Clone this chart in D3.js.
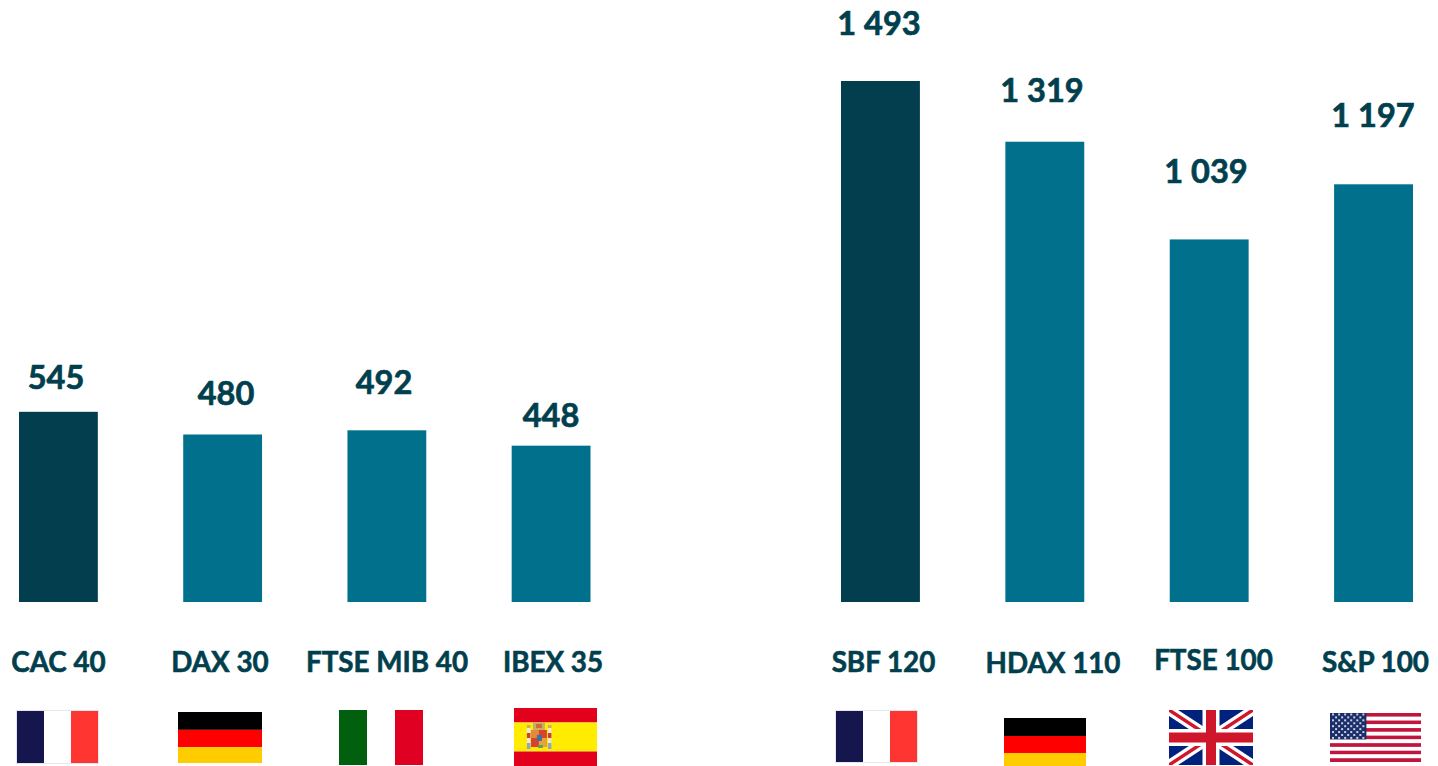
<!DOCTYPE html>
<html><head><meta charset="utf-8">
<script src="https://cdn.jsdelivr.net/npm/d3@7"></script>
<style>html,body{margin:0;padding:0;background:#fff;overflow:hidden}svg{display:block}text{font-family:Lato,sans-serif;font-weight:700}</style>
</head><body><svg id="c" width="1438" height="766"></svg>
<script>
// DATA
const leftCategories = ["CAC 40","DAX 30","FTSE MIB 40","IBEX 35"];
const leftValues = [545,480,492,448];
const rightCategories = ["SBF 120","HDAX 110","FTSE 100","S&P 100"];
const rightValues = [1493,1319,1039,1197];
const leftFlags = ["fr","de","it","es"];
const rightFlags = ["fr","de2","uk","us"];

// LAYOUT
const W=1438,H=766,baseY=602,topY=81;
const DARK="#023e4d",TEAL="#01708c",LABEL="#023f4e";
const leftValueLabel=[{x:56,y:389},{x:226,y:405},{x:384,y:394},{x:551,y:427}];
const rightValueLabel=[{x:879,y:35},{x:1042,y:102},{x:1206,y:183},{x:1373,y:126.5}];
const leftCatLabel=[{x:58.5,y:672},{x:220,y:672},{x:387,y:672},{x:553,y:672}];
const rightCatLabel=[{x:883.5,y:672},{x:1053,y:673},{x:1213.5,y:670},{x:1375.5,y:672}];
const leftFlagBox=[[17,711,98,763],[178,712,262,763],[339,710,423,765],[514,708,597,766]];
const rightFlagBox=[[836,711,917,762],[1004,718,1086,766],[1169,710,1253,765],[1330,713,1421,762]];

const svg=d3.select("#c");
const defs=svg.append("defs");
defs.append("filter").attr("id","soft").append("feGaussianBlur").attr("stdDeviation",0.45);
const y=d3.scaleLinear().domain([0,d3.max(rightValues)]).range([baseY,topY]);
const fmt=v=>d3.format(",")(v).replace(/,/g," ");

function panel(cats,vals,flags,range,valPos,catPos,boxes){
  const x=d3.scaleBand().domain(cats).range(range).paddingInner(0.52).paddingOuter(0);
  const g=svg.append("g");
  g.selectAll("rect").data(cats).join("rect")
    .attr("x",d=>x(d)).attr("width",x.bandwidth())
    .attr("y",(d,i)=>y(vals[i])).attr("height",(d,i)=>baseY-y(vals[i]))
    .attr("fill",(d,i)=>i===0?DARK:TEAL);
  svg.append("g").selectAll("text").data(vals).join("text")
    .attr("x",(d,i)=>valPos[i].x).attr("y",(d,i)=>valPos[i].y)
    .attr("text-anchor","middle").attr("font-size",32.5).attr("fill",LABEL)
    .attr("stroke",LABEL).attr("stroke-width",0.7).text(fmt);
  svg.append("g").selectAll("text").data(cats).join("text")
    .attr("x",(d,i)=>catPos[i].x).attr("y",(d,i)=>catPos[i].y)
    .attr("text-anchor","middle").attr("font-size",27.8).attr("fill",LABEL)
    .attr("stroke",LABEL).attr("stroke-width",0.6).text(d=>d);
  flags.forEach((f,i)=>drawFlag(f,boxes[i]));
}

function bands(g,b,cols,vertical,fracs){
  const [x0,y0,x1,y1]=b;let acc=0;
  cols.forEach((c,i)=>{const fr=fracs?fracs[i]:1/cols.length;
    const r=g.append("rect").attr("fill",c);
    if(vertical) r.attr("x",x0+(x1-x0)*acc).attr("width",(x1-x0)*fr).attr("y",y0).attr("height",y1-y0);
    else r.attr("x",x0).attr("width",x1-x0).attr("y",y0+(y1-y0)*acc).attr("height",(y1-y0)*fr);
    acc+=fr;});
}
function drawFlag(kind,b){
  const g=svg.append("g").attr("filter","url(#soft)");
  const [x0,y0,x1,y1]=b,w=x1-x0,h=y1-y0;
  const box=(px,py,pw,ph,c)=>g.append("rect").attr("x",px).attr("y",py).attr("width",pw).attr("height",ph).attr("fill",c);
  if(kind==="fr"){
    g.append("rect").attr("x",x0-0.5).attr("y",y0-0.5).attr("width",w+1).attr("height",h+1).attr("fill","none").attr("stroke","#e6e6ee");
    bands(g,b,["#14144f","#ffffff","#ff3630"],true);
  }
  if(kind==="de") bands(g,b,["#050003","#fe0000","#ffcc00"],false,[.35,.34,.31]);
  if(kind==="de2") bands(g,b,["#050003","#fe0000","#ffcc00"],false,[.375,.354,.271]);
  if(kind==="it") bands(g,b,["#00600f","#ffffff","#e00024"],true);
  if(kind==="es"){
    bands(g,b,["#e2001f","#ffec00","#e2001f"],false,[.25,.5,.25]);
    const cx=x0+w*0.3,cy=y0+h/2;
    box(cx-6,cy-15,12,8,"#c9b060");
    box(cx-3,cy-13,6,4,"#d06a3a");
    box(cx-8,cy-7,16,17,"#d8432e");
    box(cx-8,cy-7,8,8,"#e58a3a");
    box(cx,cy+1,8,9,"#e8a23a");
    box(cx-2,cy-2,5,6,"#3b6fa8");
    box(cx-1,cy+8,5,3,"#5fa35a");
    [-12,9].forEach(d=>{
      box(cx+d,cy-9,3.5,19,"#efe8d2");
      box(cx+d,cy-4,3.5,5,"#c8402e");
      box(cx+d,cy+6,3.5,6,"#8fa9b8");
      box(cx+d,cy-12,3.5,3,"#c9b060");
    });
  }
  if(kind==="uk"){
    const id="clip"+x0;
    defs.append("clipPath").attr("id",id).append("rect").attr("x",x0).attr("y",y0).attr("width",w).attr("height",h);
    const u=g.append("g").attr("clip-path",`url(#${id})`);
    u.append("rect").attr("x",x0).attr("y",y0).attr("width",w).attr("height",h).attr("fill","#00247d");
    const line=(a,b2,c,d,col,sw)=>u.append("line").attr("x1",a).attr("y1",b2).attr("x2",c).attr("y2",d).attr("stroke",col).attr("stroke-width",sw);
    line(x0,y0,x1,y1,"#fff",10);line(x1,y0,x0,y1,"#fff",10);
    line(x0,y0,x1,y1,"#cf142b",3.5);line(x1,y0,x0,y1,"#cf142b",3.5);
    const cx=(x0+x1)/2,cy=(y0+y1)/2;
    line(cx,y0,cx,y1,"#fff",17);line(x0,cy,x1,cy,"#fff",17);
    line(cx,y0,cx,y1,"#cf142b",10);line(x0,cy,x1,cy,"#cf142b",10);
  }
  if(kind==="us"){
    const n=13;
    const cols=d3.range(n).map(i=>i%2?"#ffffff":"#c0143c");
    bands(g,b,cols,false);
    const cw=w*0.40,ch=h*7/13;
    box(x0,y0,cw,ch,"#1b2f6b");
    for(let r=0;r<9;r++){const k=r%2?5:6;for(let c=0;c<k;c++){
      box(x0+cw*((c+(r%2?1:.5))/6)-1,y0+ch*((r+.5)/9)-1,2,2,"#c7cfe0");
    }}
  }
}

panel(leftCategories,leftValues,leftFlags,[19,590.5],leftValueLabel,leftCatLabel,leftFlagBox);
panel(rightCategories,rightValues,rightFlags,[841,1413],rightValueLabel,rightCatLabel,rightFlagBox);
</script></body></html>
